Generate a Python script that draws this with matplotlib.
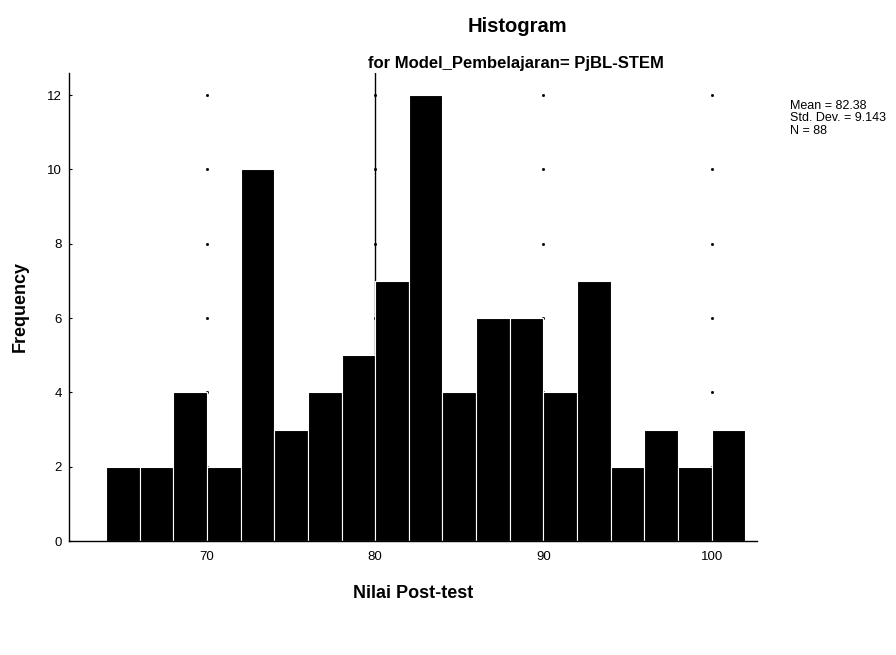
import matplotlib
matplotlib.use("Agg")
import matplotlib.pyplot as plt
import numpy as np

bin_edges = [64, 66, 68, 70, 72, 74, 76, 78, 80, 82, 84, 86, 88, 90, 92, 94, 96, 98, 100, 102]
counts = [2, 2, 4, 2, 10, 3, 4, 5, 7, 12, 4, 6, 6, 4, 7, 2, 3, 2, 3]
x_ticks = [70, 80, 90, 100]
y_ticks = [0, 2, 4, 6, 8, 10, 12]
stats_text = "Mean = 82.38\nStd. Dev. = 9.143\nN = 88"

plt.rcParams['font.family'] = ['Liberation Sans', 'DejaVu Sans']

fig = plt.figure(figsize=(8.96, 6.55), dpi=100)
ax = fig.add_axes([0.077, 0.174, 0.768, 0.715])

lefts = np.array(bin_edges[:-1])
widths = np.diff(bin_edges)
ax.bar(lefts, counts, width=widths, align='edge', color='black', edgecolor='white', linewidth=0.8, zorder=2)

# reference line at 80
ax.axvline(80, color='black', linewidth=1.0, zorder=1)

# dot grid at tick intersections
for xv in x_ticks:
    for yv in y_ticks[1:]:
        ax.plot(xv, yv, marker='s', markersize=1.0, color='black', zorder=1, linestyle='none')

ax.set_xlim(61.8, 102.7)
ax.set_ylim(0, 12.6)
ax.set_xticks(x_ticks)
ax.set_yticks(y_ticks)
ax.tick_params(axis='both', direction='in', length=2, width=0.8, labelsize=9.5, pad=5)
ax.tick_params(axis='x', length=0, pad=7)
for s in ['top', 'right']:
    ax.spines[s].set_visible(False)
for s in ['left', 'bottom']:
    ax.spines[s].set_linewidth(1.0)

ax.set_xlabel("Nilai Post-test", fontsize=13, fontweight='bold', labelpad=16)
ax.set_ylabel("Frequency", fontsize=13, fontweight='bold', labelpad=13)

fig.text(0.577, 0.960, "Histogram", fontsize=14.5, fontweight='bold', ha='center', va='center')
fig.text(0.576, 0.903, "for Model_Pembelajaran= PjBL-STEM", fontsize=12, fontweight='bold', ha='center', va='center')
fig.text(0.882, 0.848, stats_text, fontsize=9, ha='left', va='top', linespacing=1.08)

fig.savefig("out.png", dpi=100)
